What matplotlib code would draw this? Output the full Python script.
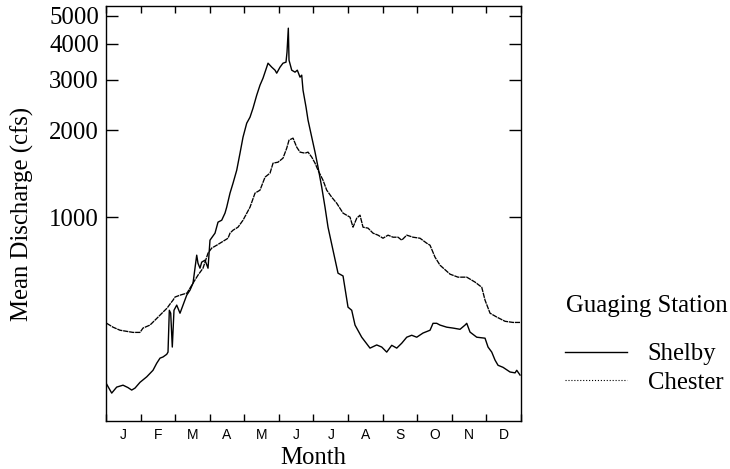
import numpy as np
import matplotlib
matplotlib.use('Agg')
import matplotlib.pyplot as plt
from matplotlib.lines import Line2D
from matplotlib.ticker import FixedLocator, NullLocator, FixedFormatter, NullFormatter

# data (x in months from Jan 1, y in cfs)
month_labels = ['J', 'F', 'M', 'A', 'M', 'J', 'J', 'A', 'S', 'O', 'N', 'D']
ytick_values = [1000, 2000, 3000, 4000, 5000]

shelby_month = [0.02, 0.165, 0.309, 0.492, 0.636, 0.743, 0.839, 0.983, 1.177, 1.359,
                1.466, 1.562, 1.648, 1.755, 1.793, 1.831, 1.871, 1.917, 1.966, 2.045,
                2.140, 2.227, 2.334, 2.429, 2.516, 2.623, 2.660, 2.718, 2.767, 2.863,
                2.950, 3.007, 3.152, 3.239, 3.346, 3.441, 3.490, 3.586, 3.673, 3.780,
                3.875, 3.962, 4.069, 4.164, 4.251, 4.358, 4.453, 4.540, 4.647, 4.685,
                4.792, 4.887, 4.936, 5.032, 5.118, 5.205, 5.234, 5.272, 5.292, 5.370,
                5.466, 5.532, 5.610, 5.659, 5.697, 5.784, 5.842, 5.949, 6.044, 6.131,
                6.238, 6.333, 6.420, 6.564, 6.709, 6.854, 6.998, 7.105, 7.201, 7.394,
                7.634, 7.828, 7.973, 8.117, 8.262, 8.407, 8.551, 8.696, 8.840, 8.985,
                9.167, 9.370, 9.456, 9.563, 9.659, 9.852, 10.035, 10.237, 10.382, 10.431,
                10.526, 10.720, 10.960, 11.047, 11.154, 11.249, 11.336, 11.481, 11.683, 11.828,
                11.877, 11.972]
shelby_cfs = [263, 245, 257, 261, 256, 251, 255, 267, 279, 294,
              311, 324, 327, 334, 340, 475, 464, 354, 475, 495,
              464, 495, 536, 558, 590, 738, 692, 665, 698, 709,
              665, 832, 880, 961, 976, 1033, 1083, 1212, 1312, 1456,
              1668, 1896, 2120, 2224, 2390, 2652, 2873, 3038, 3318, 3425,
              3318, 3239, 3162, 3318, 3425, 3453, 3740, 4531, 3509, 3239,
              3188, 3239, 3063, 3112, 2760, 2410, 2172, 1896, 1682, 1492,
              1271, 1083, 923, 768, 639, 625, 487, 475, 422, 383,
              351, 360, 354, 340, 359, 351, 365, 383, 389, 383,
              396, 405, 428, 428, 422, 415, 412, 408, 422, 428,
              399, 383, 380, 354, 340, 319, 306, 301, 290, 288,
              294, 283]

chester_month = [0.02, 0.202, 0.405, 0.781, 0.983, 1.070, 1.272, 1.475, 1.648, 1.764,
                 1.871, 1.938, 1.995, 2.140, 2.342, 2.429, 2.516, 2.660, 2.805, 2.950,
                 3.057, 3.201, 3.346, 3.528, 3.586, 3.673, 3.817, 3.962, 4.164, 4.309,
                 4.453, 4.598, 4.743, 4.830, 4.974, 5.118, 5.226, 5.292, 5.408, 5.515,
                 5.610, 5.755, 5.842, 5.949, 6.044, 6.131, 6.275, 6.382, 6.527, 6.671,
                 6.854, 7.056, 7.143, 7.250, 7.345, 7.432, 7.577, 7.721, 7.866, 8.010,
                 8.155, 8.300, 8.444, 8.551, 8.696, 8.878, 9.080, 9.274, 9.370, 9.514,
                 9.659, 9.948, 10.179, 10.431, 10.671, 10.865, 10.960, 11.105, 11.298, 11.538,
                 11.770, 11.972]
chester_cfs = [428, 415, 405, 398, 398, 412, 422, 446, 468, 483,
               503, 515, 528, 536, 545, 567, 590, 629, 665, 750,
               781, 799, 819, 845, 880, 901, 923, 976, 1083, 1212,
               1241, 1377, 1422, 1540, 1552, 1603, 1736, 1851, 1881, 1750,
               1682, 1668, 1682, 1616, 1540, 1456, 1344, 1241, 1173, 1118,
               1033, 1000, 923, 992, 1016, 923, 916, 880, 866, 845,
               866, 852, 852, 832, 866, 852, 845, 812, 799, 726,
               681, 634, 619, 619, 595, 571, 515, 464, 450, 435,
               431, 431]

serif = 'Liberation Serif'
sans = 'Liberation Sans'
fsize = 17.8

fig = plt.figure(figsize=(7.3, 4.69), dpi=100)
ax = fig.add_axes([106 / 730, 1 - 421 / 469, 415 / 730, 415 / 469])

ax.plot(shelby_month, shelby_cfs, color='black', lw=1.0)
ax.plot(chester_month, chester_cfs, color='black', lw=0.95, linestyle=(0, (4, 0.6)))

ax.set_yscale('log')
ax.set_ylim(196, 5410)
ax.set_xlim(0, 12)

# y axis: plain numbers, ticks inward on both sides
ax.yaxis.set_major_locator(FixedLocator(ytick_values))
ax.yaxis.set_major_formatter(FixedFormatter([str(v) for v in ytick_values]))
ax.yaxis.set_minor_locator(NullLocator())
ax.yaxis.set_minor_formatter(NullFormatter())
ax.tick_params(axis='y', which='major', direction='in', length=8.6, width=1.0,
               left=True, right=True, pad=5, labelsize=fsize)

# x axis: ticks at month boundaries, letters centred in between
ax.xaxis.set_major_locator(FixedLocator(np.arange(0, 13)))
ax.xaxis.set_major_formatter(NullFormatter())
ax.xaxis.set_minor_locator(FixedLocator(np.arange(12) + 0.5))
ax.xaxis.set_minor_formatter(FixedFormatter(month_labels))
ax.tick_params(axis='x', which='major', direction='in', length=4.7, width=1.0,
               bottom=True, top=True)
ax.tick_params(axis='x', which='minor', length=0, pad=5.3, labelsize=10)

for lab in ax.get_yticklabels():
    lab.set_family(serif)
for lab in ax.get_xticklabels(minor=True):
    lab.set_family(sans)

for sp in ax.spines.values():
    sp.set_linewidth(1.0)

fig.text(22 / 730, 1 - 213.5 / 469, 'Mean Discharge (cfs)', rotation=90,
         ha='center', va='center', family=serif, size=fsize)
fig.text(313.5 / 730, 1 - 464 / 469, 'Month', ha='center', va='baseline',
         family=serif, size=fsize)

# legend
fig.text(566 / 730, 1 - 306 / 469, 'Guaging Station', ha='left', va='center',
         family=serif, size=fsize)
handles = [Line2D([], [], color='black', lw=1.0),
           Line2D([], [], color='black', lw=0.8, linestyle=':')]
ax.legend(handles, ['Shelby', 'Chester'], loc='upper left',
          bbox_to_anchor=(565 / 730, 1 - 343 / 469), bbox_transform=fig.transFigure,
          frameon=False, handlelength=2.5, handletextpad=0.85, labelspacing=0.25,
          borderpad=0, borderaxespad=0, prop={'family': serif, 'size': fsize})

fig.savefig('out.png', dpi=100)
